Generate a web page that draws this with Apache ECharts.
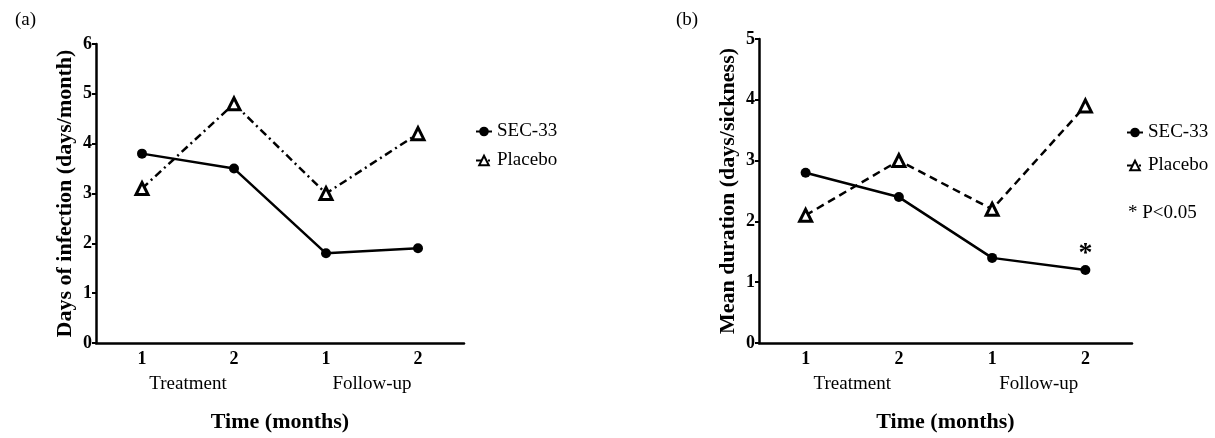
<!DOCTYPE html>
<html>
<head>
<meta charset="utf-8">
<script src="https://cdn.jsdelivr.net/npm/echarts@6/dist/echarts.min.js"></script>
<style>
  html, body { margin: 0; padding: 0; background: #fff; }
  #main { width: 1215px; height: 438px; }
</style>
</head>
<body>
<div id="main"></div>
<script>
// data
var months = ['1', '2', '1', '2']
var phases = ['Treatment', 'Follow-up']
var secA = [3.8, 3.5, 1.8, 1.9]
var placeboA = [3.1, 4.8, 3.0, 4.2]
var secB = [2.8, 2.4, 1.4, 1.2]
var placeboB = [2.1, 3.0, 2.2, 3.9]
var starB = ['', '', '', '*'] // significance mark on SEC-33 in (b)

var FONT = 'Liberation Serif'

var myChart = echarts.init(document.getElementById('main'))

function monthAxis(gridIndex) {
  return {
    type: 'category',
    gridIndex: gridIndex,
    data: months,
    boundaryGap: true,
    axisLine: { lineStyle: { color: '#000', width: 2.5 } },
    axisTick: { alignWithLabel: true, length: 5, lineStyle: { color: '#000', width: 2 } },
    axisLabel: { color: '#000', fontFamily: FONT, fontWeight: 'bold', fontSize: 18, margin: 7 },
    name: 'Time (months)',
    nameLocation: 'middle',
    nameGap: 68,
    nameTextStyle: { color: '#000', fontFamily: FONT, fontWeight: 'bold', fontSize: 22 },
  }
}

function phaseAxis(gridIndex) {
  return {
    type: 'category',
    gridIndex: gridIndex,
    position: 'bottom',
    offset: 24,
    data: phases,
    boundaryGap: true,
    axisLine: { show: false },
    axisTick: { show: false },
    axisLabel: { color: '#000', fontFamily: FONT, fontSize: 19, margin: 8 },
  }
}

function valueAxis(gridIndex, max, name) {
  return {
    type: 'value',
    gridIndex: gridIndex,
    min: 0,
    max: max,
    interval: 1,
    splitLine: { show: false },
    axisLine: { show: true, lineStyle: { color: '#000', width: 2.5 } },
    axisTick: { show: true, length: 4, lineStyle: { color: '#000', width: 2 } },
    axisLabel: { color: '#000', fontFamily: FONT, fontWeight: 'bold', fontSize: 18, margin: 4 },
    name: name,
    nameLocation: 'middle',
    nameRotate: 90,
    nameGap: 20,
    nameTextStyle: { color: '#000', fontFamily: FONT, fontWeight: 'bold', fontSize: 22 },
  }
}

function secSeries(idx, data, extra) {
  return Object.assign({
    name: 'SEC-33',
    type: 'line',
    xAxisIndex: idx * 2,
    yAxisIndex: idx,
    data: data,
    symbol: 'circle',
    symbolSize: 10,
    itemStyle: { color: '#000' },
    lineStyle: { color: '#000', width: 2.5 },
    z: 3,
  }, extra || {})
}

function placeboSeries(idx, data, dash) {
  return {
    name: 'Placebo',
    type: 'line',
    xAxisIndex: idx * 2,
    yAxisIndex: idx,
    data: data,
    symbol: 'triangle',
    symbolSize: 12,
    itemStyle: { color: '#fff', borderColor: '#000', borderWidth: 3 },
    lineStyle: { color: '#000', width: 2.5, type: dash },
    z: 2,
  }
}

var legendText = { color: '#000', fontFamily: FONT, fontSize: 19 }

var option = {
  animation: false,
  backgroundColor: '#fff',
  grid: [
    { left: 96, top: 44, width: 368, height: 303 },
    { left: 759, top: 39, width: 373, height: 304 },
  ],
  xAxis: [monthAxis(0), phaseAxis(0), monthAxis(1), phaseAxis(1)],
  yAxis: [
    valueAxis(0, 6, 'Days of infection (days/month)'),
    valueAxis(1, 5, 'Mean duration (days/sickness)'),
  ],
  legend: [
    {
      orient: 'vertical',
      left: 470,
      top: 117,
      itemWidth: 16,
      itemHeight: 12,
      itemGap: 10,
      textStyle: legendText,
      data: ['SEC-33', 'Placebo'],
    },
    {
      orient: 'vertical',
      left: 1121,
      top: 118,
      itemWidth: 16,
      itemHeight: 12,
      itemGap: 14,
      textStyle: legendText,
      data: ['SEC-33', 'Placebo'],
    },
  ],
  title: [
    { text: '(a)', left: 10, top: 6, textStyle: { color: '#000', fontFamily: FONT, fontWeight: 'normal', fontSize: 19 } },
    { text: '(b)', left: 671, top: 6, textStyle: { color: '#000', fontFamily: FONT, fontWeight: 'normal', fontSize: 19 } },
    { text: '* P<0.05', left: 1123, top: 199, textStyle: { color: '#000', fontFamily: FONT, fontWeight: 'normal', fontSize: 19 } },
  ],
  series: [
    secSeries(0, secA),
    placeboSeries(0, placeboA, [8, 4, 2, 4]),
    secSeries(1, secB, {
      label: {
        show: true,
        position: 'top',
        distance: -3,
        color: '#000',
        fontFamily: FONT,
        fontWeight: 'bold',
        fontSize: 28,
        formatter: function (p) { return starB[p.dataIndex] },
      },
    }),
    placeboSeries(1, placeboB, [8, 5]),
  ],
}

myChart.setOption(option)
</script>
</body>
</html>
